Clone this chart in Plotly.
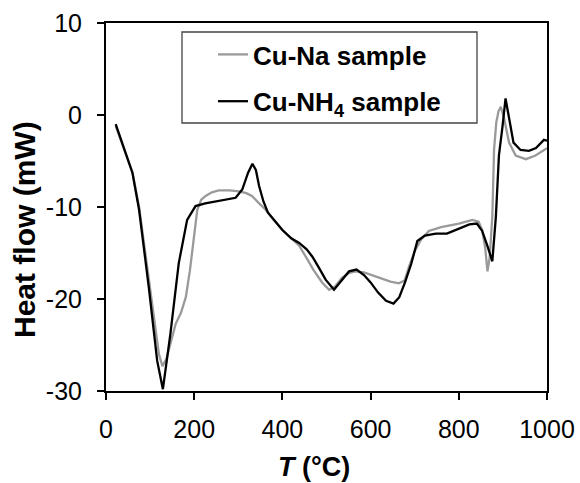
import plotly.graph_objects as go

# Cu-Na sample (grey)
t_na = [22, 40, 60, 75, 97, 112, 120, 128, 137, 148, 158, 170, 181, 190, 196, 202, 207, 216, 226, 240,
        256, 280, 302, 318, 331, 345, 362, 380, 400, 420, 438, 453, 470, 490, 506, 520, 535, 550, 565, 585,
        604, 625, 645, 664, 677, 687, 700, 715, 732, 760, 800, 831, 845, 853, 860, 865, 870, 876, 880, 885,
        890, 895, 902, 914, 929, 952, 974, 1000]
hf_na = [-1.2, -3.5, -6.2, -10.0, -18.0, -23.5, -26.0, -27.3, -26.5, -24.5, -22.7, -21.5, -19.8, -17.0, -14.7,
         -12.0, -10.3, -9.2, -8.8, -8.4, -8.2, -8.2, -8.3, -8.5, -8.8, -9.5, -10.3, -11.4, -12.5, -13.4,
         -14.2, -15.4, -16.8, -18.2, -19.0, -18.6, -17.7, -17.2, -17.0, -17.1, -17.4, -17.8, -18.1, -18.3,
         -18.0, -16.5, -14.8, -13.5, -12.6, -12.2, -11.8, -11.4, -11.6, -12.5, -14.5, -17.0, -15.5, -11.0,
         -3.7, -0.8, 0.4, 0.9, -0.2, -3.0, -4.4, -4.8, -4.4, -3.6]

# Cu-NH4 sample (black)
t_nh4 = [22, 40, 60, 75, 97, 116, 129, 146, 165, 184, 203, 225, 249, 294, 309, 322, 332, 340, 347, 357,
         367, 385, 400, 420, 438, 455, 468, 484, 498, 517, 535, 551, 568, 585, 600, 617, 635, 652, 665, 678,
         692, 706, 723, 748, 773, 800, 824, 841, 853, 866, 876, 884, 891, 899, 906, 915, 924, 940, 959, 975,
         993, 1000]
hf_nh4 = [-1.0, -3.5, -6.3, -10.3, -18.7, -26.7, -29.8, -23.8, -16.1, -11.4, -9.9, -9.6, -9.4, -9.0, -8.1,
          -6.3, -5.3, -6.0, -7.7, -9.4, -10.6, -11.7, -12.5, -13.4, -13.9, -14.6, -15.4, -16.7, -17.9, -19.0,
          -17.9, -17.0, -16.8, -17.4, -18.2, -19.3, -20.2, -20.5, -19.8, -18.2, -16.2, -13.7, -13.1, -12.9,
          -12.9, -12.4, -11.9, -11.8, -12.6, -14.4, -15.9, -11.1, -4.4, -1.3, 1.8, -0.6, -3.0, -3.8, -3.9,
          -3.6, -2.7, -2.8]

x_ticks = [0, 200, 400, 600, 800, 1000]
x_labels = ["0", "200", "400", "600", "800", "1000"]
y_ticks = [-30, -20, -10, 0, 10]
y_labels = ["-30", "-20", "-10", "0", "10"]

FONT = "Arial, Liberation Sans, sans-serif"

fig = go.Figure()
fig.add_trace(go.Scatter(x=t_na, y=hf_na, mode="lines", name="Cu-Na sample",
                         line=dict(color="#9a9a9a", width=2.3), legendgroup="a"))
fig.add_trace(go.Scatter(x=t_nh4, y=hf_nh4, mode="lines", name="Cu-NH<sub>4</sub> sample",
                         line=dict(color="#000000", width=2.3), legendgroup="b"))

L, R, T, B = 106, 33, 23, 92
W, H = 580, 483
pw, ph = W - L - R, H - T - B

def px(xp):
    return (xp - L) / pw

def py(yp):
    return (H - B - yp) / ph

axis_common = dict(showline=True, linecolor="black", linewidth=2, mirror=True,
                   ticks="outside", ticklen=7, tickwidth=1.5, tickcolor="black",
                   showgrid=False, zeroline=False,
                   tickfont=dict(family=FONT, size=25, color="black"))

fig.update_layout(
    width=W, height=H,
    margin=dict(l=L, r=R, t=T, b=B, autoexpand=False),
    paper_bgcolor="white", plot_bgcolor="white",
    font=dict(family=FONT, color="black"),
    xaxis=dict(range=[0, 1000], tickvals=x_ticks, ticktext=x_labels, ticklabelstandoff=8, **axis_common),
    yaxis=dict(range=[-30, 10], tickvals=y_ticks, ticktext=y_labels, ticklabelstandoff=10, **axis_common),
    legend=dict(x=px(213), y=py(31), xanchor="left", yanchor="top",
                bgcolor="rgba(0,0,0,0)", borderwidth=0,
                traceorder="grouped", tracegroupgap=10,
                font=dict(family=FONT, size=26, color="black", weight="bold"),
                itemwidth=30),
    shapes=[dict(type="rect", xref="paper", yref="paper",
                 x0=px(182), x1=px(477), y0=py(123), y1=py(32),
                 line=dict(color="#444444", width=1.3), fillcolor="rgba(0,0,0,0)")],
    annotations=[
        dict(text="<b>Heat flow (mW)</b>", xref="paper", yref="paper",
             x=px(24), y=py(230), textangle=-90, showarrow=False,
             xanchor="center", yanchor="middle",
             font=dict(family=FONT, size=30, color="black")),
        dict(text="<b><i>T</i> (°C)</b>", xref="paper", yref="paper",
             x=px(314), y=py(467), showarrow=False,
             xanchor="center", yanchor="middle",
             font=dict(family=FONT, size=27, color="black")),
    ],
)

fig.write_html("out.html", config={"displayModeBar": False},
               post_script="document.body.style.margin='0';document.body.style.padding='0';")
